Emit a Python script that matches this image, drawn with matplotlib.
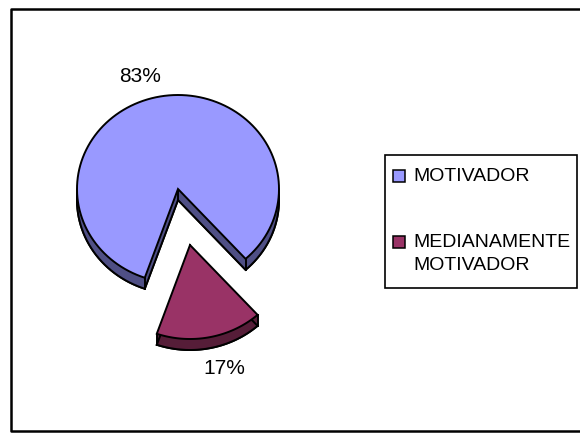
import numpy as np
import matplotlib.pyplot as plt
from matplotlib.patches import Polygon, Rectangle

labels = ['MOTIVADOR', 'MEDIANAMENTE\nMOTIVADOR']
values = [83, 17]
pct_labels = ['83%', '17%']
top_colors = ['#9999FF', '#993366']
side_colors = ['#4f4f85', '#561d38']

# pie geometry in pixel units (y grows downward)
CX, CY = 178, 189
RX, RY = 101, 94
DEPTH = 11
START = 48.0 + 360 * values[1] / sum(values)   # big slice starts where the small one ends
EXPLODE = [(0, 0), (12, 56)]
LW = 1.4


def wedge_outline(cx, cy, t0, t1, n=120):
    t = np.radians(np.linspace(t0, t1, n))
    xs = np.concatenate([[cx], cx + RX * np.cos(t), [cx]])
    ys = np.concatenate([[cy], cy + RY * np.sin(t), [cy]])
    return np.column_stack([xs, ys])


def draw_slice(ax, pts, top, side):
    low = pts + [0, DEPTH]
    # bottom face and side walls
    ax.add_patch(Polygon(low, closed=True, facecolor=side, edgecolor='black', lw=LW, zorder=1))
    for i in range(len(pts) - 1):
        quad = [pts[i], pts[i + 1], low[i + 1], low[i]]
        ax.add_patch(Polygon(quad, closed=True, facecolor=side, edgecolor='none', zorder=2))
    ax.add_patch(Polygon(low, closed=True, facecolor='none', edgecolor='black', lw=LW, zorder=2))
    ax.add_patch(Polygon(pts, closed=True, facecolor=top, edgecolor='black', lw=LW, zorder=3))


fig = plt.figure(figsize=(5.8, 4.33), dpi=100)
ax = fig.add_axes([0, 0, 1, 1])
ax.set_xlim(0, 580)
ax.set_ylim(433, 0)
ax.axis('off')

angle = START
fracs = [v / sum(values) for v in values]
for i, f in enumerate(fracs):
    t0, t1 = angle, angle + 360 * f
    angle = t1
    dx, dy = EXPLODE[i]
    pts = wedge_outline(CX + dx, CY + dy, t0, t1)
    draw_slice(ax, pts, top_colors[i], side_colors[i])
    # corner edges of the wall
    for p in (pts[0], pts[1], pts[-2]):
        ax.plot([p[0], p[0]], [p[1], p[1] + DEPTH], color='black', lw=LW, zorder=2.5)

# percent labels
pct_pos = [(140, 76), (224, 368)]
for (x, y), txt in zip(pct_pos, pct_labels):
    ax.text(x, y, txt, ha='center', va='center', fontsize=15, family='Liberation Sans')

# legend box
ax.add_patch(Rectangle((385, 155), 192, 133, facecolor='white', edgecolor='black', lw=1.2, zorder=4))
legend_y = [176, 242]
for y, lab, col in zip(legend_y, labels, top_colors):
    ax.add_patch(Rectangle((393, y - 6), 12, 12, facecolor=col, edgecolor='black', lw=1.1, zorder=5))
    ax.text(413, y - 8, lab, ha='left', va='top', fontsize=14, family='Liberation Sans',
            linespacing=1.45, zorder=5)

# chart area border
ax.plot([581, 11, 11, 581], [9, 9, 431, 431], color='black', lw=1.8, clip_on=False)

fig.savefig('out.png', dpi=100)
